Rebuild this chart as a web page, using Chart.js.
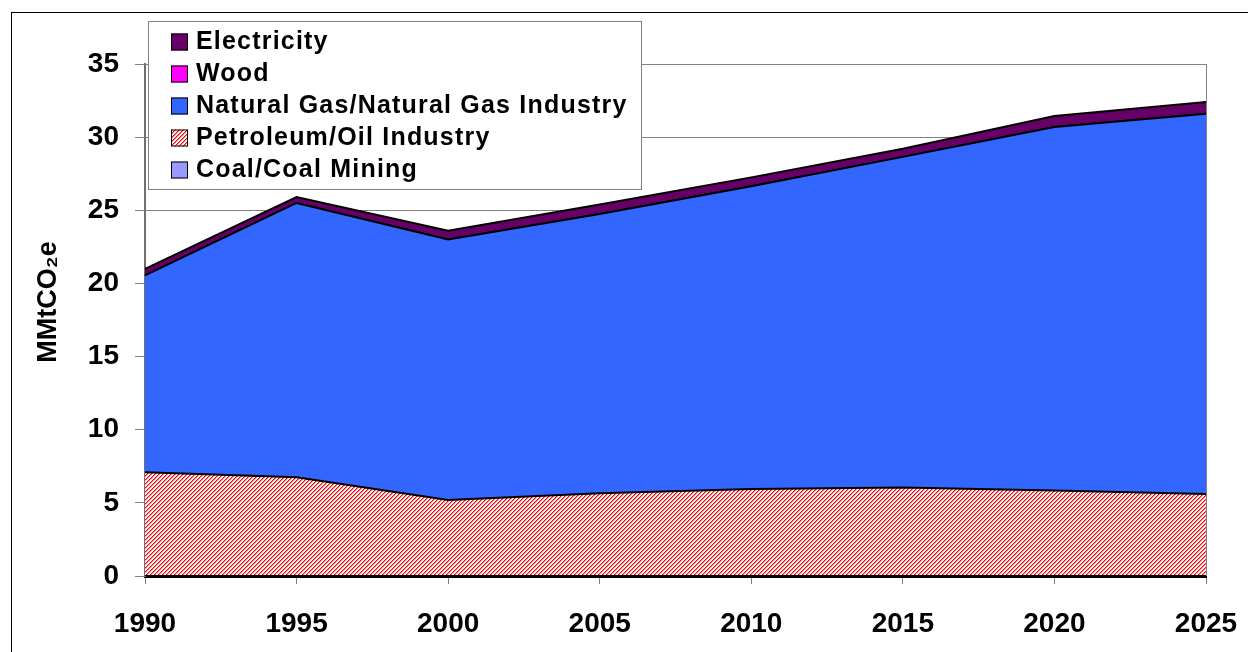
<!DOCTYPE html>
<html>
<head>
<meta charset="utf-8">
<script src="https://cdn.jsdelivr.net/npm/chart.js@4.4.1/dist/chart.umd.min.js"></script>
<style>
  html, body { margin: 0; padding: 0; background: #fff; }
  #wrap { width: 1248px; height: 652px; }
</style>
</head>
<body>
<div id="wrap"><canvas id="emissionsChart" width="1248" height="652"></canvas></div>
<script>
const years = ['1990', '1995', '2000', '2005', '2010', '2015', '2020', '2025'];
const coal = [0, 0, 0, 0, 0, 0, 0, 0];
const petroleum = [7.1, 6.75, 5.2, 5.65, 5.95, 6.05, 5.85, 5.6];
const naturalGas = [13.45, 18.75, 17.8, 19.1, 20.7, 22.6, 24.85, 26.0];
const wood = [0, 0, 0, 0, 0, 0, 0, 0];
const electricity = [0.45, 0.4, 0.6, 0.65, 0.6, 0.55, 0.75, 0.8];
const yTicks = [0, 5, 10, 15, 20, 25, 30, 35];
const yTitle = 'MMtCO₂e';

const FONT = '"Liberation Sans", Arial, sans-serif';

// red diagonal hatch like the Excel fill
function makeHatch() {
  const c = document.createElement('canvas');
  c.width = 4; c.height = 4;
  const g = c.getContext('2d');
  g.fillStyle = '#ffffff';
  g.fillRect(0, 0, 4, 4);
  for (let x = 0; x < 4; x++) {
    for (let y = 0; y < 4; y++) {
      const k = (x + y) % 4;
      if (k === 0) { g.fillStyle = '#ff0000'; g.fillRect(x, y, 1, 1); }
      if (k === 1) { g.fillStyle = '#ff8080'; g.fillRect(x, y, 1, 1); }
    }
  }
  return g.createPattern(c, 'repeat');
}

const ctx = document.getElementById('emissionsChart').getContext('2d');
const hatch = makeHatch();

function area(label, data, bg, fill) {
  return {
    label: label,
    data: data,
    backgroundColor: bg,
    borderColor: '#000000',
    borderWidth: 2,
    pointRadius: 0,
    pointHoverRadius: 0,
    tension: 0,
    fill: fill
  };
}

const framePlugin = {
  id: 'frame',
  afterDraw(chart) {
    const c = chart.ctx;
    const a = chart.chartArea;
    c.save();
    // outer frame
    c.strokeStyle = '#000000';
    c.lineWidth = 1;
    c.strokeRect(11.5, 12.5, 1260, 660);
    // right border of plot area
    c.strokeStyle = '#808080';
    c.beginPath();
    c.moveTo(Math.round(a.right) + 0.5, a.top);
    c.lineTo(Math.round(a.right) + 0.5, a.bottom);
    c.stroke();

    // y title
    c.save();
    c.translate(49, 302);
    c.rotate(-Math.PI / 2);
    c.font = 'bold 27px ' + FONT;
    c.fillStyle = '#000000';
    c.textAlign = 'center';
    c.textBaseline = 'middle';
    c.fillText(yTitle, 0, 0);
    c.restore();

    // legend box
    const bx = 148.5, by = 21.5, bw = 493, bh = 168;
    c.fillStyle = '#ffffff';
    c.fillRect(bx, by, bw, bh);
    c.strokeStyle = '#808080';
    c.strokeRect(bx, by, bw, bh);
    const items = chart.data.datasets.slice().reverse();
    c.font = 'bold 25px ' + FONT;
    c.textBaseline = 'middle';
    if ('letterSpacing' in c) c.letterSpacing = '1.2px';
    items.forEach((ds, i) => {
      const cy = 41.5 + i * 32;
      c.fillStyle = ds.backgroundColor;
      c.fillRect(171, cy - 8, 17, 17);
      c.strokeStyle = '#000000';
      c.lineWidth = 1;
      c.strokeRect(171.5, cy - 7.5, 16, 16);
      c.fillStyle = '#000000';
      c.fillText(ds.label, 196, cy + 1);
    });
    c.restore();
  }
};

new Chart(ctx, {
  type: 'line',
  data: {
    labels: years,
    datasets: [
      area('Coal/Coal Mining', coal, '#9999ff', 'origin'),
      area('Petroleum/Oil Industry', petroleum, hatch, '-1'),
      area('Natural Gas/Natural Gas Industry', naturalGas, '#3366ff', '-1'),
      area('Wood', wood, '#ff00ff', '-1'),
      area('Electricity', electricity, '#660066', '-1')
    ]
  },
  options: {
    responsive: false,
    animation: false,
    maintainAspectRatio: false,
    layout: { padding: { left: 12, top: 64, right: 42, bottom: 0 } },
    plugins: {
      legend: { display: false },
      tooltip: { enabled: false }
    },
    scales: {
      x: {
        offset: false,
        grid: {
          display: true,
          drawOnChartArea: false,
          drawTicks: true,
          tickLength: 8,
          color: '#808080'
        },
        border: { display: true, color: '#000000', width: 3 },
        ticks: {
          color: '#000000',
          padding: 23,
          maxRotation: 0,
          autoSkip: false,
          font: { family: FONT, size: 28, weight: 'bold' }
        },
        afterFit(scale) {
          scale.height = 76;
          scale.paddingLeft = 0;
          scale.paddingRight = 0;
        }
      },
      y: {
        stacked: true,
        min: 0,
        max: 35,
        afterBuildTicks(scale) {
          scale.ticks = yTicks.map(v => ({ value: v }));
        },
        grid: {
          color: '#808080',
          lineWidth: 1,
          tickLength: 10,
          drawTicks: true
        },
        border: { display: true, color: '#707070', width: 2 },
        ticks: {
          color: '#000000',
          padding: 16,
          font: { family: FONT, size: 28, weight: 'bold' }
        },
        afterFit(scale) {
          scale.width = 133;
          scale.paddingTop = 0;
          scale.paddingBottom = 0;
        }
      }
    }
  },
  plugins: [framePlugin]
});
</script>
</body>
</html>
